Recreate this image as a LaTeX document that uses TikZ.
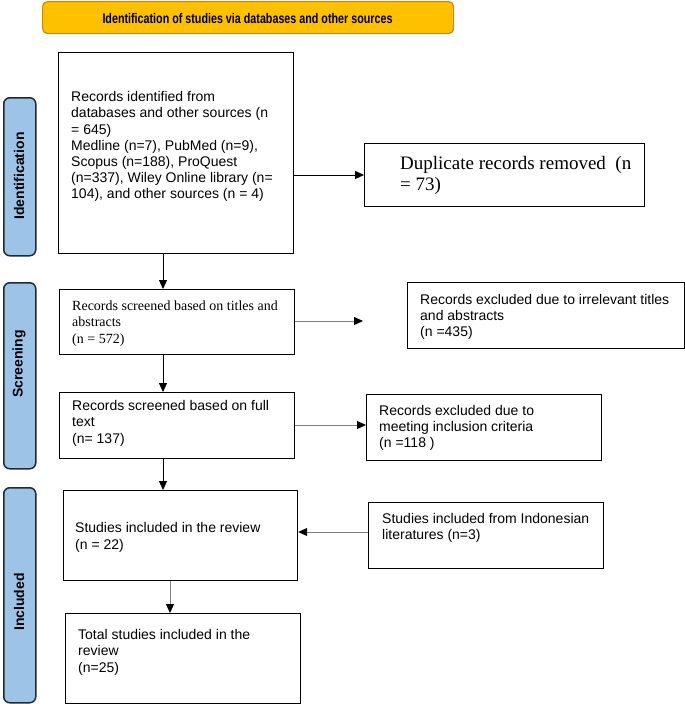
\documentclass[tikz,border=0pt]{standalone}
\usepackage{fontspec}
\usepackage{graphicx}
\setmainfont{Liberation Serif}
\newfontfamily\arialf{Liberation Sans}
\usetikzlibrary{arrows.meta}
\definecolor{bannerfill}{HTML}{FFC000}
\definecolor{bannerdraw}{HTML}{BF9000}
\definecolor{stagefill}{HTML}{9DC3E6}
\definecolor{stagedraw}{HTML}{1F2A38}
\definecolor{linegray}{HTML}{7F7F7F}
\newcommand\topstrut[1]{\rule{0pt}{#1}}
\begin{document}
\begin{tikzpicture}[x=1pt,y=-1pt,
  flowbox/.style={draw=black, line width=1.2pt, inner sep=0pt, anchor=north west},
  stage/.style={draw=stagedraw, fill=stagefill, line width=1.5pt, rounded corners=6pt, inner sep=0pt, anchor=north west, minimum width=32pt},
  stagetext/.style={rotate=90, inner sep=0pt, font=\arialf\bfseries\fontsize{14}{16}\selectfont},
  sans/.style={anchor=north west, inner sep=0pt, align=left, font={\arialf\fontsize{14}{16.2}\selectfont}},
  serif/.style={anchor=north west, inner sep=0pt, align=left, font={\fontsize{14}{16.7}\selectfont}},
  arr/.style={line width=1pt, -{Triangle[length=9pt,width=8pt]}},
  garr/.style={draw=linegray, line width=1pt, -{Triangle[length=9pt,width=8pt,black]}}
]
\useasboundingbox (0,0) rectangle (685,704);

% banner
\node[draw=bannerdraw, fill=bannerfill, line width=1.2pt, rounded corners=5pt, minimum width=411pt, minimum height=32pt, inner sep=0pt, anchor=north west] (ban) at (42,1) {};
\node[font=\arialf\bfseries\fontsize{14}{16}\selectfont, inner sep=0pt] (bant) at (247.5,18) {\scalebox{0.767}[1]{Identification of studies via databases and other sources}};

% stage labels
\node[stage, minimum height=158pt] (s1) at (3,97) {};
\node[stagetext] (s1t) at (19,176) {Identification};
\node[stage, minimum height=186pt] (s2) at (3,282) {};
\node[stagetext] (s2t) at (19,364) {Screening};
\node[stage, minimum height=215pt] (s3) at (3,487) {};
\node[stagetext] (s3t) at (19,602) {Included};

% boxes
\node[flowbox, minimum width=235pt, minimum height=201pt] (b1) at (58,52) {};
\node[sans] (t1) at (71,91) {\topstrut{10.5pt}Records identified from\\ databases and other sources (n\\ = 645)\\ Medline (n=7), PubMed (n=9),\\ Scopus (n=188), ProQuest\\ (n=337), Wiley Online library (n=\\ 104), and other sources (n = 4)};

\node[flowbox, minimum width=280pt, minimum height=63pt] (dup) at (364,143) {};
\node[anchor=north west, inner sep=0pt, align=left, font={\fontsize{19}{21.4}\selectfont}] (tdup) at (400,155) {\topstrut{14.25pt}Duplicate records removed\ \ (n\\ = 73)};

\node[flowbox, minimum width=235pt, minimum height=65pt] (b2) at (59,289) {};
\node[serif] (t2) at (72,299.5) {\topstrut{10.5pt}Records screened based on titles and\\ abstracts\\ (n = 572)};

\node[flowbox, minimum width=277pt, minimum height=66pt] (b4) at (407,282) {};
\node[sans] (t4) at (420,293.8) {\topstrut{10.5pt}Records excluded due to irrelevant titles\\ and abstracts\\ (n =435)};

\node[flowbox, minimum width=235pt, minimum height=66pt] (b3) at (59,392) {};
\node[sans] (t3) at (72,400) {\topstrut{10.5pt}Records screened based on full\\ text\\ (n= 137)};

\node[flowbox, minimum width=235pt, minimum height=66pt] (b5) at (366,394) {};
\node[sans] (t5) at (379,404.5) {\topstrut{10.5pt}Records excluded due to\\ meeting inclusion criteria\\ (n =118 )};

\node[flowbox, minimum width=234pt, minimum height=90pt] (b6) at (63,490) {};
\node[sans] (t6) at (75,522.2) {\topstrut{10.5pt}Studies included in the review\\ (n = 22)};

\node[flowbox, minimum width=235pt, minimum height=66pt] (b7) at (368,502) {};
\node[sans] (t7) at (382,513) {\topstrut{10.5pt}Studies included from Indonesian\\ literatures (n=3)};

\node[flowbox, minimum width=235pt, minimum height=90pt] (b8) at (65,613) {};
\node[sans] (t8) at (78,629) {\topstrut{10.5pt}Total studies included in the\\ review\\ (n=25)};

% connectors
\coordinate (xa) at (163,0);
\coordinate (xb) at (170,0);
\coordinate (ya) at (0,175);
\coordinate (yb) at (0,321);
\coordinate (yc) at (0,425);
\coordinate (yd) at (0,532);
\coordinate (e2) at (363,321);
\draw[arr] (b1.south -| xa) -- (b2.north -| xa);
\draw[arr] (b2.south -| xa) -- (b3.north -| xa);
\draw[arr] (b3.south -| xa) -- (b6.north -| xa);
\draw[garr] (b6.south -| xb) -- (b8.north -| xb);
\draw[arr] (b1.east |- ya) -- (dup.west |- ya);
\draw[garr] (b2.east |- yb) -- (e2);
\draw[garr] (b3.east |- yc) -- (b5.west |- yc);
\draw[garr] (b7.west |- yd) -- (b6.east |- yd);
\end{tikzpicture}
\end{document}
